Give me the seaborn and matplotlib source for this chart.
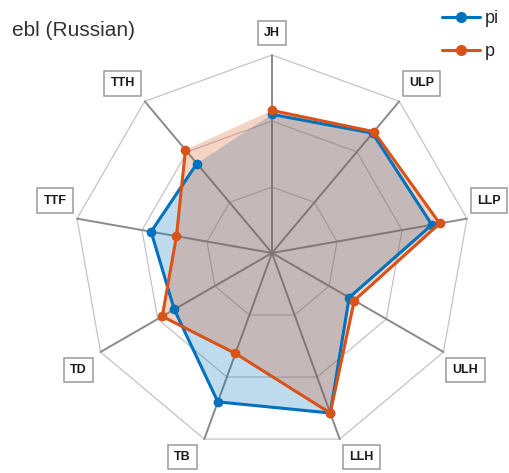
import numpy as np
import seaborn as sns
import matplotlib.pyplot as plt
from matplotlib.lines import Line2D

# axes clockwise from the top
axes_labels = ["JH", "ULP", "LLP", "ULH", "LLH", "TB", "TD", "TTF", "TTH"]
pi_vals = [0.70, 0.79, 0.82, 0.45, 0.86, 0.80, 0.57, 0.62, 0.59]
p_vals = [0.72, 0.80, 0.86, 0.48, 0.86, 0.54, 0.64, 0.49, 0.68]
ring_levels = [1 / 3, 2 / 3, 1.0]

sns.set_theme(style="white")
plt.rcParams["font.family"] = ["Liberation Sans", "DejaVu Sans"]

blue = "#0072BD"
orange = "#D95319"

n = len(axes_labels)
ang = np.deg2rad(np.arange(n) * 360 / n)
ux, uy = np.sin(ang), np.cos(ang)

R = 198  # px per unit radius
fig = plt.figure(figsize=(5.09, 4.73), dpi=100)
ax = fig.add_axes([0, 0, 1, 1])
ax.set_xlim(-272 / R, 237 / R)
ax.set_ylim(-220 / R, 253 / R)
ax.set_aspect("equal")
ax.axis("off")

# polygon grid
for lv in ring_levels:
    ax.plot(np.append(ux, ux[0]) * lv, np.append(uy, uy[0]) * lv,
            color="#c4c4c4", lw=0.9, zorder=1)
for x, y in zip(ux, uy):
    ax.plot([0, x], [0, y], color="#8a8a8a", lw=1.4, zorder=1)

for vals, col in [(pi_vals, blue), (p_vals, orange)]:
    v = np.array(vals)
    xs = np.append(ux * v, ux[0] * v[0])
    ys = np.append(uy * v, uy[0] * v[0])
    ax.fill(xs, ys, color=col, alpha=0.25, lw=0, zorder=2)
    sns.lineplot(x=xs, y=ys, sort=False, color=col, lw=2.2, marker="o",
                 markersize=7, markeredgewidth=0, ax=ax, zorder=3)

# boxed axis labels, set off diagonally from each outer vertex
for lab, x, y in zip(axes_labels, ux, uy):
    if abs(x) < 1e-6:
        dx, dy = 0, 22 / R
    else:
        dx, dy = np.sign(x) * 22 / R, np.sign(y) * 18 / R
    ax.text(x + dx, y + dy, lab, ha="center", va="center",
            fontsize=9, fontweight="bold", color="#1a1a1a",
            bbox=dict(boxstyle="square,pad=0.5", fc="white", ec="#9a9a9a", lw=1.1))

fig.text(12 / 509, 1 - 30 / 473, "ebl (Russian)",
         ha="left", va="center", fontsize=15, color="#333333")

handles = [Line2D([], [], color=blue, lw=2.2, marker="o", markersize=7),
           Line2D([], [], color=orange, lw=2.2, marker="o", markersize=7)]
fig.legend(handles, ["pi", "p"], loc="upper right", bbox_to_anchor=(1.0, 1.0),
           frameon=False, fontsize=13, handlelength=2.1, handletextpad=0.3,
           labelspacing=0.9, borderaxespad=0.15)

fig.savefig("out.png", dpi=100)
